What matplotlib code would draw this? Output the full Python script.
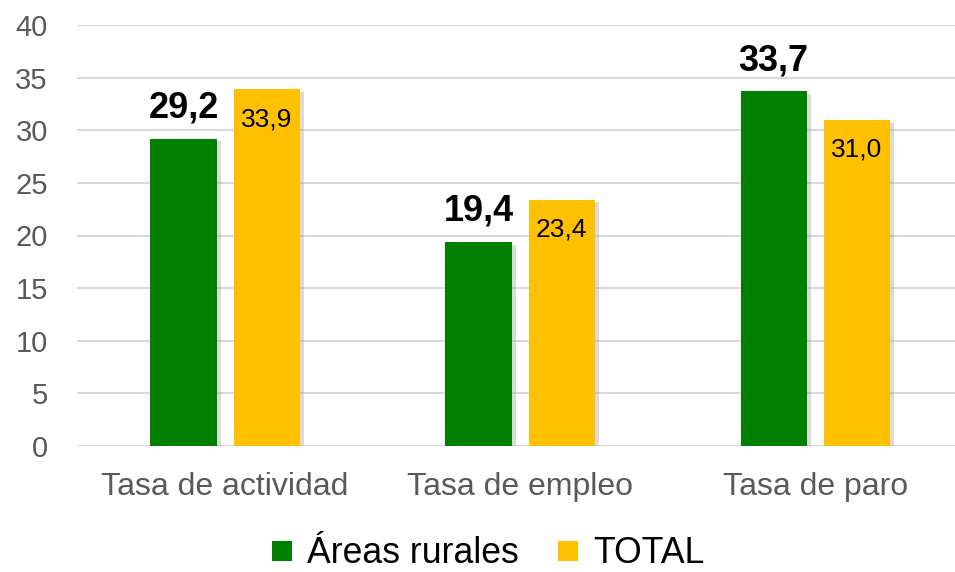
import numpy as np
import matplotlib.pyplot as plt
import matplotlib.patheffects as pe
from matplotlib.lines import Line2D

plt.rcParams['font.family'] = ['Liberation Sans', 'DejaVu Sans']

categorias = ['Tasa de actividad', 'Tasa de empleo', 'Tasa de paro']
rurales = [29.2, 19.4, 33.7]
total = [33.9, 23.4, 31.0]
series = ['Áreas rurales', 'TOTAL']

verde = '#008000'
amarillo = '#FFC000'
gris = '#595959'

fig = plt.figure(figsize=(9.55, 5.72), dpi=100)
ax = fig.add_axes([77 / 955, 126 / 572, 878 / 955, 421 / 572])

x = np.arange(len(categorias))
ancho = 0.224
# sombra suave a la derecha de las barras
sombra = [pe.SimplePatchShadow(offset=(3, -2), shadow_rgbFace='#999999', alpha=0.35), pe.Normal()]

b1 = ax.bar(x - 0.141, rurales, ancho, color=verde, zorder=3)
b2 = ax.bar(x + 0.141, total, ancho, color=amarillo, zorder=3)
for b in list(b1) + list(b2):
    b.set_path_effects(sombra)

def fmt(v):
    return f'{v:.1f}'.replace('.', ',')

for xi, v in zip(x, rurales):
    ax.annotate(fmt(v), (xi - 0.141, v), xytext=(0, 15), textcoords='offset points',
                ha='center', va='baseline', fontsize=26, fontweight='bold', color='black', zorder=4)
for xi, v in zip(x, total):
    ax.annotate(fmt(v), (xi + 0.141, v), xytext=(0, -26.6), textcoords='offset points',
                ha='center', va='baseline', fontsize=19, color='black', zorder=4)

ax.set_ylim(0, 40)
ax.set_yticks(range(0, 41, 5))
ax.set_xlim(-0.502, 2.474)
ax.set_xticks(x)
ax.set_xticklabels(categorias)
ax.tick_params(axis='y', length=0, labelsize=21, labelcolor=gris, pad=21)
ax.tick_params(axis='x', length=0, labelsize=23, labelcolor=gris, pad=19)
ax.grid(axis='y', color='#d9d9d9', linewidth=1.5, zorder=0)
for s in ax.spines.values():
    s.set_visible(False)

handles = [Line2D([], [], marker='s', linestyle='none', markersize=13.7, markeredgewidth=0, color=c)
           for c in (verde, amarillo)]
fig.legend(handles, series, loc='center', bbox_to_anchor=(0.51, 0.032), ncol=2, frameon=False,
           fontsize=25.7, handlelength=0.7, handletextpad=0.35, columnspacing=1.05, borderpad=0)

fig.savefig('out.png', dpi=100)
